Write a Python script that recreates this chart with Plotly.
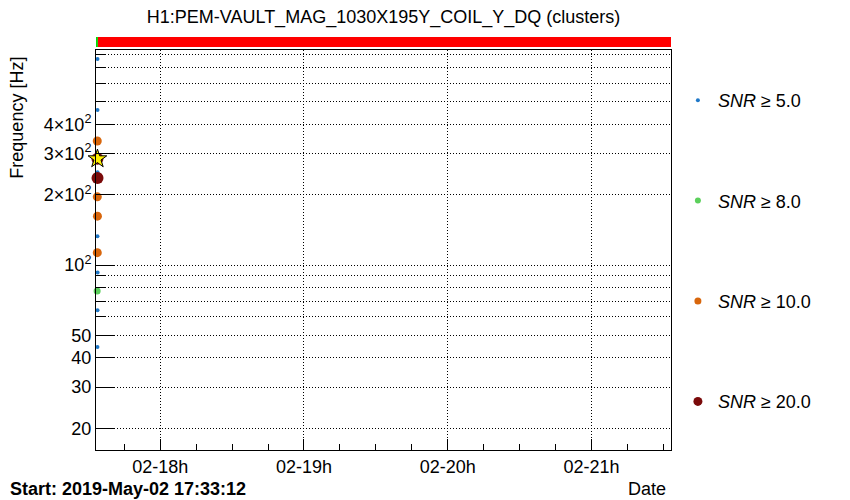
import plotly.graph_objects as go

# Intervallo temporale del grafico (4 ore dall'inizio)
t_inizio = "2019-05-02 17:33:12"
t_fine = "2019-05-02 21:33:12"

# Cluster per classe di SNR: tempi e frequenze [Hz]
snr5_tempi = ["2019-05-02 17:33:50", "2019-05-02 17:33:50", "2019-05-02 17:33:50",
              "2019-05-02 17:33:48", "2019-05-02 17:33:52", "2019-05-02 17:33:50",
              "2019-05-02 17:33:48"]
snr5_freq = [763, 461, 250, 133, 93, 64, 44.6]
snr8_tempi = ["2019-05-02 17:33:40"]
snr8_freq = [77.5]
snr10_tempi = ["2019-05-02 17:33:44", "2019-05-02 17:33:44", "2019-05-02 17:33:48",
               "2019-05-02 17:33:44"]
snr10_freq = [340, 196, 162, 113]
snr20_tempi = ["2019-05-02 17:33:48", "2019-05-02 17:33:50"]
snr20_freq = [285, 236]
# Cluster più forte (stella)
picco_tempo = ["2019-05-02 17:33:48"]
picco_freq = [285]

# Segmenti di stato (barra in alto)
segmenti_inizio = ["2019-05-02 17:33:12", "2019-05-02 17:34:00"]
segmenti_fine = ["2019-05-02 17:34:00", "2019-05-02 21:33:12"]
segmenti_colori = ["#00dd00", "#ff0000"]

# Tick dell'asse delle frequenze
y_tick_val = [20, 30, 40, 50, 100, 200, 300, 400]
y_tick_testo = ["20", "30", "40", "50", "10<sup>2</sup>", "2×10<sup>2</sup>",
                "3×10<sup>2</sup>", "4×10<sup>2</sup>"]
y_minor_val = [60, 70, 80, 90, 500, 600, 700, 800]

# nome, tempi, frequenze, colore, dimensione nel grafico, dimensione in legenda
classi = [
    ("<i>SNR</i> ≥ 5.0", snr5_tempi, snr5_freq, "#1f78c8", 4, 4),
    ("<i>SNR</i> ≥ 8.0", snr8_tempi, snr8_freq, "#5cd05c", 7, 6),
    ("<i>SNR</i> ≥ 10.0", snr10_tempi, snr10_freq, "#d8660c", 9, 7),
    ("<i>SNR</i> ≥ 20.0", snr20_tempi, snr20_freq, "#7a0a0a", 12, 9),
]

fig = go.Figure()
for i, (nome, tempi, freq, colore, dim, dim_leg) in enumerate(classi):
    fig.add_trace(go.Scatter(
        x=tempi, y=freq, mode="markers", name=nome, showlegend=False,
        legendgroup=str(i),
        marker=dict(color=colore, size=dim, line=dict(width=0)),
        cliponaxis=False,
    ))
    # Traccia solo per la legenda (marker più piccoli come nell'originale)
    fig.add_trace(go.Scatter(
        x=[None], y=[None], mode="markers", name=nome, legendgroup=str(i),
        marker=dict(color=colore, size=dim_leg, line=dict(width=0)),
    ))

fig.add_trace(go.Scatter(
    x=picco_tempo, y=picco_freq, mode="markers", showlegend=False,
    marker=dict(symbol="star", color="#ffee00", size=14,
                line=dict(color="black", width=1)),
    cliponaxis=False,
))

# Barra dei segmenti sopra il grafico
for x0, x1, c in zip(segmenti_inizio, segmenti_fine, segmenti_colori):
    fig.add_shape(type="rect", xref="x", yref="paper", x0=x0, x1=x1,
                  y0=1.0075, y1=1.0325, fillcolor=c, line=dict(width=0))

griglia = dict(showgrid=True, gridcolor="black", gridwidth=1, griddash="1px,2px")

fig.update_xaxes(
    range=[t_inizio, t_fine], tickformat="%d-%Hh",
    tick0="2019-05-02 18:00:00", dtick=3600000,
    ticks="inside", ticklen=11, tickcolor="black",
    showline=True, linecolor="black", mirror=True, zeroline=False,
    tickfont=dict(size=18, color="black"),
    minor=dict(dtick=900000, tick0="2019-05-02 18:00:00", ticks="inside",
               ticklen=6, tickcolor="black", showgrid=False),
    **griglia,
)
fig.update_yaxes(
    type="log", range=[1.208, 2.921],
    tickmode="array", tickvals=y_tick_val, ticktext=y_tick_testo,
    ticks="inside", ticklen=18, tickcolor="black",
    showline=True, linecolor="black", mirror=True, zeroline=False,
    tickfont=dict(size=18, color="black"),
    minor=dict(tickmode="array", tickvals=y_minor_val, ticks="inside",
               ticklen=9, tickcolor="black", showgrid=True,
               gridcolor="black", griddash="1px,2px", gridwidth=1),
    **griglia,
)

# La pagina ha un margine di 8px: si riduce la figura per restare nella finestra
fig.update_layout(
    width=842, height=492,
    margin=dict(l=88, r=179, t=42, b=50),
    plot_bgcolor="white", paper_bgcolor="white",
    font=dict(family="Liberation Sans, Arial, sans-serif", color="black"),
    title=dict(text="H1:PEM-VAULT_MAG_1030X195Y_COIL_Y_DQ (clusters)",
               x=0.446, xanchor="center", y=0.982, yanchor="middle",
               font=dict(size=18)),
    legend=dict(x=1.012, xanchor="left", y=0.92, yanchor="top",
                font=dict(size=18), tracegroupgap=74,
                bgcolor="rgba(0,0,0,0)"),
    annotations=[
        dict(text="Frequency [Hz]", textangle=-90, xref="paper", yref="paper",
             x=-0.138, y=0.83, xanchor="center", yanchor="middle",
             showarrow=False, font=dict(size=18)),
        dict(text="<b>Start: 2019-May-02 17:33:12</b>", xref="paper", yref="paper",
             x=-0.153, y=-0.0975, xanchor="left", yanchor="middle",
             showarrow=False, font=dict(size=18)),
        dict(text="Date", xref="paper", yref="paper",
             x=0.995, y=-0.0975, xanchor="right", yanchor="middle",
             showarrow=False, font=dict(size=18)),
    ],
)

fig.write_html("out.html")
